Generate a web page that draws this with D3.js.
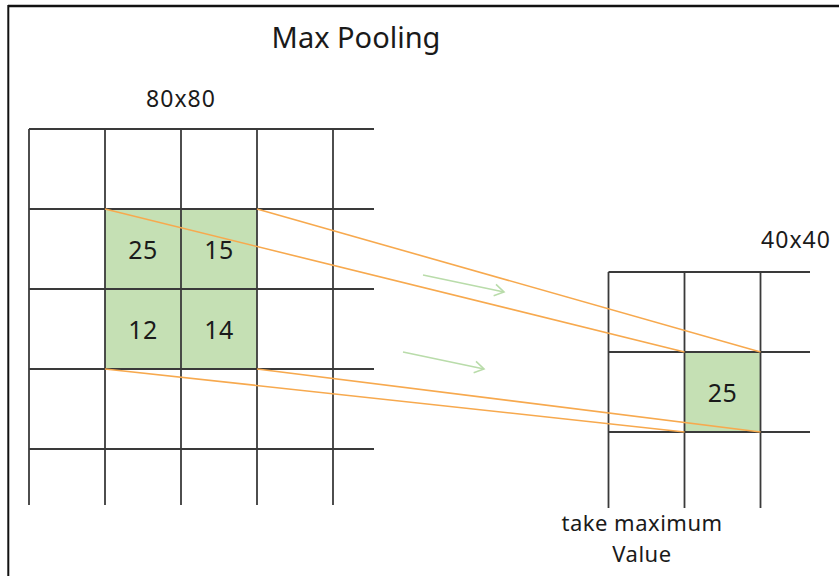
<!DOCTYPE html>
<html>
<head>
<meta charset="utf-8">
<script src="https://d3js.org/d3.v7.min.js"></script>
<style>
  body { margin: 0; background: #fff; }
  text { font-family: "Noto Sans", sans-serif; fill: #1a1a1a; }
</style>
</head>
<body>
<svg width="839" height="576"></svg>
<script>
// input window (2x2) and its pooled output
var windowValues = [[25, 15], [12, 14]];
var pooledValue = d3.max(windowValues.flat());
var inputLabel = "80x80";
var outputLabel = "40x40";
var title = "Max Pooling";
var caption = ["take maximum", "Value"];

var svg = d3.select("svg");
var lineColor = "#3a3a3a", fillGreen = "#c5e0b4", orange = "#f7a94e", arrowGreen = "#b9dcaa";

// frame
svg.append("line").attr("x1", 8).attr("y1", 6).attr("x2", 839).attr("y2", 6)
  .attr("stroke", "#111").attr("stroke-width", 2.5);
svg.append("line").attr("x1", 8.3).attr("y1", 5).attr("x2", 8.3).attr("y2", 576)
  .attr("stroke", "#111").attr("stroke-width", 2);

// scales for grids (index -> pixel)
var xIn = d3.scaleLinear().domain([0, 1]).range([29, 105]);
var yIn = d3.scaleLinear().domain([0, 1]).range([129, 209]);
var xOut = d3.scaleLinear().domain([0, 1]).range([608.5, 684.5]);
var yOut = d3.scaleLinear().domain([0, 1]).range([272, 352]);

// green cells
var g = svg.append("g");
windowValues.forEach(function(row, r) {
  row.forEach(function(v, c) {
    g.append("rect").attr("x", xIn(c + 1)).attr("y", yIn(r + 1))
      .attr("width", xIn(1) - xIn(0)).attr("height", yIn(1) - yIn(0)).attr("fill", fillGreen);
    g.append("text").attr("x", xIn(c + 1.5)).attr("y", yIn(r + 1.5) + 10)
      .attr("text-anchor", "middle").attr("font-size", 25).attr("letter-spacing", 0.5).text(v);
  });
});
g.append("rect").attr("x", xOut(1)).attr("y", yOut(1))
  .attr("width", xOut(1) - xOut(0)).attr("height", yOut(1) - yOut(0)).attr("fill", fillGreen);
g.append("text").attr("x", xOut(1.5)).attr("y", yOut(1.5) + 10)
  .attr("text-anchor", "middle").attr("font-size", 25).attr("letter-spacing", 0.5).text(pooledValue);

// grid lines
function grid(xs, ys, nCols, nRows, xEnd, yEnd) {
  d3.range(nRows).forEach(function(j) {
    svg.append("line").attr("x1", xs(0)).attr("x2", xEnd).attr("y1", ys(j)).attr("y2", ys(j))
      .attr("stroke", lineColor).attr("stroke-width", 1.8);
  });
  d3.range(nCols).forEach(function(i) {
    svg.append("line").attr("x1", xs(i)).attr("x2", xs(i)).attr("y1", ys(0)).attr("y2", yEnd)
      .attr("stroke", lineColor).attr("stroke-width", 1.8);
  });
}
grid(xIn, yIn, 5, 5, 374, 505);
grid(xOut, yOut, 3, 3, 810, 508);

// orange projection lines
var links = [[[1, 1], [1, 1]], [[3, 1], [2, 1]], [[1, 3], [1, 2]], [[3, 3], [2, 2]]];
links.forEach(function(l) {
  svg.append("line")
    .attr("x1", xIn(l[0][0])).attr("y1", yIn(l[0][1]))
    .attr("x2", xOut(l[1][0])).attr("y2", yOut(l[1][1]))
    .attr("stroke", orange).attr("stroke-width", 1.6);
});

// light green arrows
var arrows = [[[423, 275], [504, 292]], [[403, 352], [484, 369]]];
arrows.forEach(function(a) {
  var dx = a[1][0] - a[0][0], dy = a[1][1] - a[0][1];
  var ang = Math.atan2(dy, dx), len = 11;
  svg.append("line").attr("x1", a[0][0]).attr("y1", a[0][1]).attr("x2", a[1][0]).attr("y2", a[1][1])
    .attr("stroke", arrowGreen).attr("stroke-width", 1.6);
  svg.append("path")
    .attr("d", d3.line()([
      [a[1][0] - len * Math.cos(ang - 0.55), a[1][1] - len * Math.sin(ang - 0.55)],
      a[1],
      [a[1][0] - len * Math.cos(ang + 0.55), a[1][1] - len * Math.sin(ang + 0.55)]
    ]))
    .attr("fill", "none").attr("stroke", arrowGreen).attr("stroke-width", 1.6);
});

// labels
svg.append("text").attr("x", 356).attr("y", 48).attr("text-anchor", "middle")
  .attr("font-size", 29).text(title);
svg.append("text").attr("x", 181).attr("y", 107).attr("text-anchor", "middle")
  .attr("font-size", 23).attr("letter-spacing", 1).text(inputLabel);
svg.append("text").attr("x", 796).attr("y", 248).attr("text-anchor", "middle")
  .attr("font-size", 23).attr("letter-spacing", 1).text(outputLabel);
caption.forEach(function(t, i) {
  svg.append("text").attr("x", 642).attr("y", 531 + i * 31).attr("text-anchor", "middle")
    .attr("font-size", 22).attr("letter-spacing", 0.5).text(t);
});
</script>
</body>
</html>
